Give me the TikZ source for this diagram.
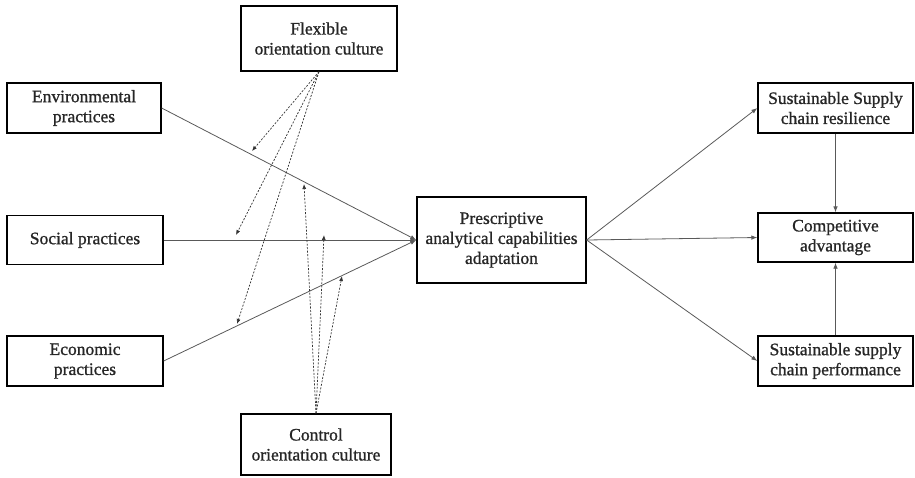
\documentclass[tikz,border=0pt]{standalone}
\usepackage{fontspec}
\setmainfont{Liberation Serif}
\newfontfamily\boxfont[FakeBold=1]{Liberation Serif}
\usetikzlibrary{arrows.meta}

\begin{document}
\begin{tikzpicture}[x=1pt, y=-1pt,
    box/.style = {rectangle, draw=black, line width=1.3pt, fill=white,
      align=center, inner sep=2pt, text=black!85,
      font=\boxfont\fontsize{17.5}{20}\selectfont},
    path/.style = {draw=black!65, line width=0.8pt,
      -{Latex[length=6pt, width=4.5pt]}},
    modr/.style = {draw=black!80, line width=0.7pt,
      dash pattern=on 2pt off 1.5pt, -{Latex[length=5pt, width=4pt]}}]
  \useasboundingbox (0, 0) rectangle (915, 477);
  % left side
  \node[box, minimum width=156, minimum height=65] (flex) at (319, 38.5)
    {Flexible\\orientation culture};
  \node[box, minimum width=154, minimum height=50] (env) at (84, 108)
    {Environmental\\practices};
  \node[box, minimum width=156, minimum height=49] (soc) at (85, 240)
    {Social practices};
  \node[box, minimum width=156, minimum height=50] (eco) at (85, 361)
    {Economic\\practices};
  \node[box, minimum width=150, minimum height=61] (ctrl) at (316, 444.5)
    {Control\\orientation culture};
  % centre and right side
  \node[box, minimum width=169, minimum height=86] (pac) at (501.5, 240)
    {Prescriptive\\analytical capabilities\\adaptation};
  \node[box, minimum width=155, minimum height=50] (res) at (835.5, 108)
    {Sustainable Supply\\chain resilience};
  \node[box, minimum width=155, minimum height=49] (comp) at (835.5, 237.5)
    {Competitive\\advantage};
  \node[box, minimum width=155, minimum height=50] (perf) at (835.5, 361)
    {Sustainable supply\\chain performance};
  % main paths
  \draw[path] (env.east) -- (pac.west);
  \draw[path] (soc.east) -- (pac.west);
  \draw[path] (eco.east) -- (pac.west);
  \draw[path] (pac.east) -- (res.west);
  \draw[path] (pac.east) -- (comp.west);
  \draw[path] (pac.east) -- (perf.west);
  \draw[path] (res.south) -- (comp.north);
  \draw[path] (perf.north) -- (comp.south);
  % moderating effects
  \coordinate (fe) at (252, 151);
  \coordinate (fs) at (236, 235);
  \coordinate (fc) at (237, 324);
  \coordinate (ce) at (304, 184);
  \coordinate (cs) at (324, 235);
  \coordinate (cc) at (342, 276);
  \foreach \t in {fe, fs, fc}
    \draw[modr] (flex.south) -- (\t);
  \foreach \t in {ce, cs, cc}
    \draw[modr] (ctrl.north) -- (\t);
\end{tikzpicture}
\end{document}
